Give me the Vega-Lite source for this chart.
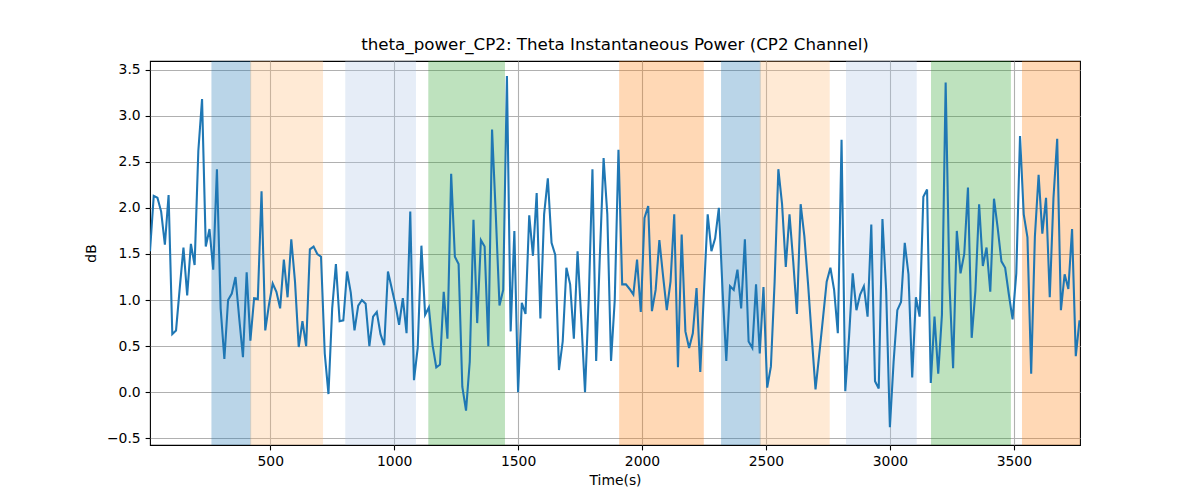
{
  "$schema": "https://vega.github.io/schema/vega-lite/v6.json",
  "autosize": {"type": "none"},
  "width": 930,
  "height": 384,
  "padding": {"left": 150, "top": 61, "right": 120, "bottom": 55},
  "background": "white",
  "title": {
    "text": "theta_power_CP2: Theta Instantaneous Power (CP2 Channel)",
    "font": "DejaVu Sans",
    "fontSize": 16.7,
    "fontWeight": "normal",
    "color": "black",
    "anchor": "middle",
    "baseline": "bottom",
    "offset": -10
  },
  "config": {
    "view": {"stroke": "black", "strokeWidth": 1.1},
    "axis": {
      "domain": false,
      "grid": true,
      "gridColor": "#b0b0b0",
      "gridWidth": 1.1,
      "tickColor": "black",
      "tickSize": 4.9,
      "tickWidth": 1.1,
      "labelFont": "DejaVu Sans",
      "labelFontSize": 13.9,
      "labelColor": "black",
      "labelPadding": 4.9,
      "titleFont": "DejaVu Sans",
      "titleFontSize": 13.9,
      "titleFontWeight": "normal",
      "titleColor": "black"
    }
  },
  "datasets": {
    "bands": [
      {"start": 265, "end": 421, "kind": "blue"},
      {"start": 421, "end": 711, "kind": "peach"},
      {"start": 805, "end": 1086, "kind": "lavender"},
      {"start": 1140, "end": 1445, "kind": "green"},
      {"start": 1910, "end": 2247, "kind": "orange"},
      {"start": 2321, "end": 2477, "kind": "blue"},
      {"start": 2477, "end": 2755, "kind": "peach"},
      {"start": 2825, "end": 3106, "kind": "lavender"},
      {"start": 3168, "end": 3486, "kind": "green"},
      {"start": 3535, "end": 3767, "kind": "orange"}
    ],
    "series": [
      {"t": 15, "v": 1.53}, {"t": 30, "v": 2.13}, {"t": 45, "v": 2.11}, {"t": 60, "v": 1.96},
      {"t": 75, "v": 1.60}, {"t": 90, "v": 2.14}, {"t": 105, "v": 0.63}, {"t": 120, "v": 0.67},
      {"t": 135, "v": 1.13}, {"t": 150, "v": 1.57}, {"t": 165, "v": 1.05}, {"t": 180, "v": 1.61},
      {"t": 195, "v": 1.38}, {"t": 210, "v": 2.62}, {"t": 225, "v": 3.18}, {"t": 240, "v": 1.58},
      {"t": 255, "v": 1.77}, {"t": 270, "v": 1.33}, {"t": 285, "v": 2.42}, {"t": 300, "v": 0.91},
      {"t": 315, "v": 0.36}, {"t": 330, "v": 1.00}, {"t": 345, "v": 1.07}, {"t": 360, "v": 1.25},
      {"t": 375, "v": 0.80}, {"t": 390, "v": 0.38}, {"t": 405, "v": 1.30}, {"t": 420, "v": 0.56},
      {"t": 435, "v": 1.02}, {"t": 450, "v": 1.01}, {"t": 465, "v": 2.18}, {"t": 480, "v": 0.67},
      {"t": 495, "v": 0.95}, {"t": 510, "v": 1.18}, {"t": 525, "v": 1.09}, {"t": 540, "v": 0.91},
      {"t": 555, "v": 1.44}, {"t": 570, "v": 1.03}, {"t": 585, "v": 1.66}, {"t": 600, "v": 1.20},
      {"t": 615, "v": 0.49}, {"t": 630, "v": 0.77}, {"t": 645, "v": 0.50}, {"t": 660, "v": 1.55},
      {"t": 675, "v": 1.58}, {"t": 690, "v": 1.50}, {"t": 705, "v": 1.47}, {"t": 720, "v": 0.42},
      {"t": 735, "v": -0.02}, {"t": 750, "v": 0.91}, {"t": 765, "v": 1.39}, {"t": 780, "v": 0.77},
      {"t": 795, "v": 0.78}, {"t": 810, "v": 1.31}, {"t": 825, "v": 1.08}, {"t": 840, "v": 0.67},
      {"t": 855, "v": 0.94}, {"t": 870, "v": 1.00}, {"t": 885, "v": 0.96}, {"t": 900, "v": 0.50},
      {"t": 915, "v": 0.82}, {"t": 930, "v": 0.87}, {"t": 945, "v": 0.63}, {"t": 960, "v": 0.51},
      {"t": 975, "v": 1.31}, {"t": 990, "v": 1.13}, {"t": 1005, "v": 0.95}, {"t": 1020, "v": 0.73},
      {"t": 1035, "v": 1.02}, {"t": 1050, "v": 0.64}, {"t": 1065, "v": 1.96}, {"t": 1080, "v": 0.13},
      {"t": 1095, "v": 0.48}, {"t": 1110, "v": 1.59}, {"t": 1125, "v": 0.84}, {"t": 1140, "v": 0.92},
      {"t": 1155, "v": 0.51}, {"t": 1170, "v": 0.27}, {"t": 1185, "v": 0.30}, {"t": 1200, "v": 1.09},
      {"t": 1215, "v": 0.58}, {"t": 1230, "v": 2.37}, {"t": 1245, "v": 1.47}, {"t": 1260, "v": 1.39},
      {"t": 1275, "v": 0.06}, {"t": 1290, "v": -0.20}, {"t": 1305, "v": 0.33}, {"t": 1320, "v": 1.87},
      {"t": 1335, "v": 0.75}, {"t": 1350, "v": 1.65}, {"t": 1365, "v": 1.58}, {"t": 1380, "v": 0.50},
      {"t": 1395, "v": 2.85}, {"t": 1410, "v": 1.93}, {"t": 1425, "v": 0.94}, {"t": 1440, "v": 1.11},
      {"t": 1455, "v": 3.43}, {"t": 1470, "v": 0.66}, {"t": 1485, "v": 1.75}, {"t": 1500, "v": 0.00},
      {"t": 1515, "v": 0.97}, {"t": 1530, "v": 0.85}, {"t": 1545, "v": 1.92}, {"t": 1560, "v": 1.48},
      {"t": 1575, "v": 2.16}, {"t": 1590, "v": 0.80}, {"t": 1605, "v": 1.93}, {"t": 1620, "v": 2.32},
      {"t": 1635, "v": 1.62}, {"t": 1650, "v": 1.49}, {"t": 1665, "v": 0.24}, {"t": 1680, "v": 0.55},
      {"t": 1695, "v": 1.35}, {"t": 1710, "v": 1.17}, {"t": 1725, "v": 0.58}, {"t": 1740, "v": 1.53},
      {"t": 1755, "v": 0.79}, {"t": 1770, "v": 0.00}, {"t": 1785, "v": 1.00}, {"t": 1800, "v": 2.42},
      {"t": 1815, "v": 0.34}, {"t": 1830, "v": 1.49}, {"t": 1845, "v": 2.54}, {"t": 1860, "v": 1.93},
      {"t": 1875, "v": 0.34}, {"t": 1890, "v": 1.00}, {"t": 1905, "v": 2.63}, {"t": 1920, "v": 1.17},
      {"t": 1935, "v": 1.17}, {"t": 1950, "v": 1.12}, {"t": 1965, "v": 1.06}, {"t": 1980, "v": 1.44},
      {"t": 1995, "v": 0.87}, {"t": 2010, "v": 1.89}, {"t": 2025, "v": 2.02}, {"t": 2040, "v": 0.88},
      {"t": 2055, "v": 1.11}, {"t": 2070, "v": 1.65}, {"t": 2085, "v": 1.26}, {"t": 2100, "v": 0.89},
      {"t": 2115, "v": 1.20}, {"t": 2130, "v": 1.93}, {"t": 2145, "v": 0.27}, {"t": 2160, "v": 1.71},
      {"t": 2175, "v": 0.66}, {"t": 2190, "v": 0.48}, {"t": 2205, "v": 0.64}, {"t": 2220, "v": 1.13},
      {"t": 2235, "v": 0.22}, {"t": 2250, "v": 1.10}, {"t": 2265, "v": 1.93}, {"t": 2280, "v": 1.53},
      {"t": 2295, "v": 1.67}, {"t": 2310, "v": 2.00}, {"t": 2325, "v": 1.10}, {"t": 2340, "v": 0.34},
      {"t": 2355, "v": 1.15}, {"t": 2370, "v": 1.11}, {"t": 2385, "v": 1.33}, {"t": 2400, "v": 0.91},
      {"t": 2415, "v": 1.66}, {"t": 2430, "v": 0.55}, {"t": 2445, "v": 0.48}, {"t": 2460, "v": 1.17},
      {"t": 2475, "v": 0.42}, {"t": 2490, "v": 1.14}, {"t": 2505, "v": 0.05}, {"t": 2520, "v": 0.28},
      {"t": 2535, "v": 1.20}, {"t": 2550, "v": 2.42}, {"t": 2565, "v": 2.04}, {"t": 2580, "v": 1.36},
      {"t": 2595, "v": 1.93}, {"t": 2610, "v": 1.42}, {"t": 2625, "v": 0.85}, {"t": 2640, "v": 2.04},
      {"t": 2655, "v": 1.69}, {"t": 2670, "v": 1.17}, {"t": 2685, "v": 0.59}, {"t": 2700, "v": 0.03},
      {"t": 2715, "v": 0.41}, {"t": 2730, "v": 0.80}, {"t": 2745, "v": 1.20}, {"t": 2760, "v": 1.35},
      {"t": 2775, "v": 1.11}, {"t": 2790, "v": 0.64}, {"t": 2805, "v": 2.74}, {"t": 2820, "v": 0.01},
      {"t": 2835, "v": 0.59}, {"t": 2850, "v": 1.29}, {"t": 2865, "v": 0.89}, {"t": 2880, "v": 1.06},
      {"t": 2895, "v": 1.15}, {"t": 2910, "v": 0.82}, {"t": 2925, "v": 1.82}, {"t": 2940, "v": 0.12},
      {"t": 2955, "v": 0.04}, {"t": 2970, "v": 1.88}, {"t": 2985, "v": 1.10}, {"t": 3000, "v": -0.38},
      {"t": 3015, "v": 0.33}, {"t": 3030, "v": 0.89}, {"t": 3045, "v": 0.98}, {"t": 3060, "v": 1.62},
      {"t": 3075, "v": 1.28}, {"t": 3090, "v": 0.16}, {"t": 3105, "v": 1.03}, {"t": 3120, "v": 0.82},
      {"t": 3135, "v": 2.12}, {"t": 3150, "v": 2.20}, {"t": 3165, "v": 0.10}, {"t": 3180, "v": 0.82},
      {"t": 3195, "v": 0.20}, {"t": 3210, "v": 0.84}, {"t": 3225, "v": 3.36}, {"t": 3240, "v": 1.20},
      {"t": 3255, "v": 0.26}, {"t": 3270, "v": 1.75}, {"t": 3285, "v": 1.29}, {"t": 3300, "v": 1.50},
      {"t": 3315, "v": 2.22}, {"t": 3330, "v": 0.59}, {"t": 3345, "v": 1.10}, {"t": 3360, "v": 2.04},
      {"t": 3375, "v": 1.37}, {"t": 3390, "v": 1.57}, {"t": 3405, "v": 1.09}, {"t": 3420, "v": 2.10},
      {"t": 3435, "v": 1.78}, {"t": 3450, "v": 1.42}, {"t": 3465, "v": 1.35}, {"t": 3480, "v": 1.06},
      {"t": 3495, "v": 0.79}, {"t": 3510, "v": 1.29}, {"t": 3525, "v": 2.78}, {"t": 3540, "v": 1.93},
      {"t": 3555, "v": 1.68}, {"t": 3570, "v": 0.20}, {"t": 3585, "v": 1.69}, {"t": 3600, "v": 2.36},
      {"t": 3615, "v": 1.72}, {"t": 3630, "v": 2.11}, {"t": 3645, "v": 1.03}, {"t": 3660, "v": 2.11},
      {"t": 3675, "v": 2.75}, {"t": 3690, "v": 0.89}, {"t": 3705, "v": 1.28}, {"t": 3720, "v": 1.12},
      {"t": 3735, "v": 1.77}, {"t": 3750, "v": 0.39}, {"t": 3765, "v": 0.78}
    ]
  },
  "layer": [
    {
      "data": {"name": "bands"},
      "mark": {"type": "rect", "opacity": 0.3, "strokeWidth": 1, "clip": true},
      "encoding": {
        "x": {
          "field": "start", "type": "quantitative",
          "scale": {"domain": [15, 3767], "nice": false, "zero": false},
          "axis": {"title": "Time(s)", "values": [500, 1000, 1500, 2000, 2500, 3000, 3500], "format": "d", "titlePadding": 5}
        },
        "x2": {"field": "end"},
        "fill": {
          "field": "kind", "type": "nominal", "legend": null,
          "scale": {"domain": ["blue", "peach", "lavender", "green", "orange"], "range": ["#1f77b4", "#ffbb78", "#aec7e8", "#2ca02c", "#ff7f0e"]}
        },
        "stroke": {
          "field": "kind", "type": "nominal", "legend": null,
          "scale": {"domain": ["blue", "peach", "lavender", "green", "orange"], "range": ["#1f77b4", "#ffbb78", "#aec7e8", "#2ca02c", "#ff7f0e"]}
        }
      }
    },
    {
      "data": {"name": "series"},
      "mark": {"type": "line", "color": "#1f77b4", "strokeWidth": 2.08, "clip": true},
      "encoding": {
        "x": {"field": "t", "type": "quantitative"},
        "y": {
          "field": "v", "type": "quantitative",
          "scale": {"domain": [-0.573, 3.594], "nice": false, "zero": false},
          "axis": {"title": "dB", "values": [-0.5, 0, 0.5, 1, 1.5, 2, 2.5, 3, 3.5], "format": ".1f", "titlePadding": 8}
        }
      }
    }
  ]
}
